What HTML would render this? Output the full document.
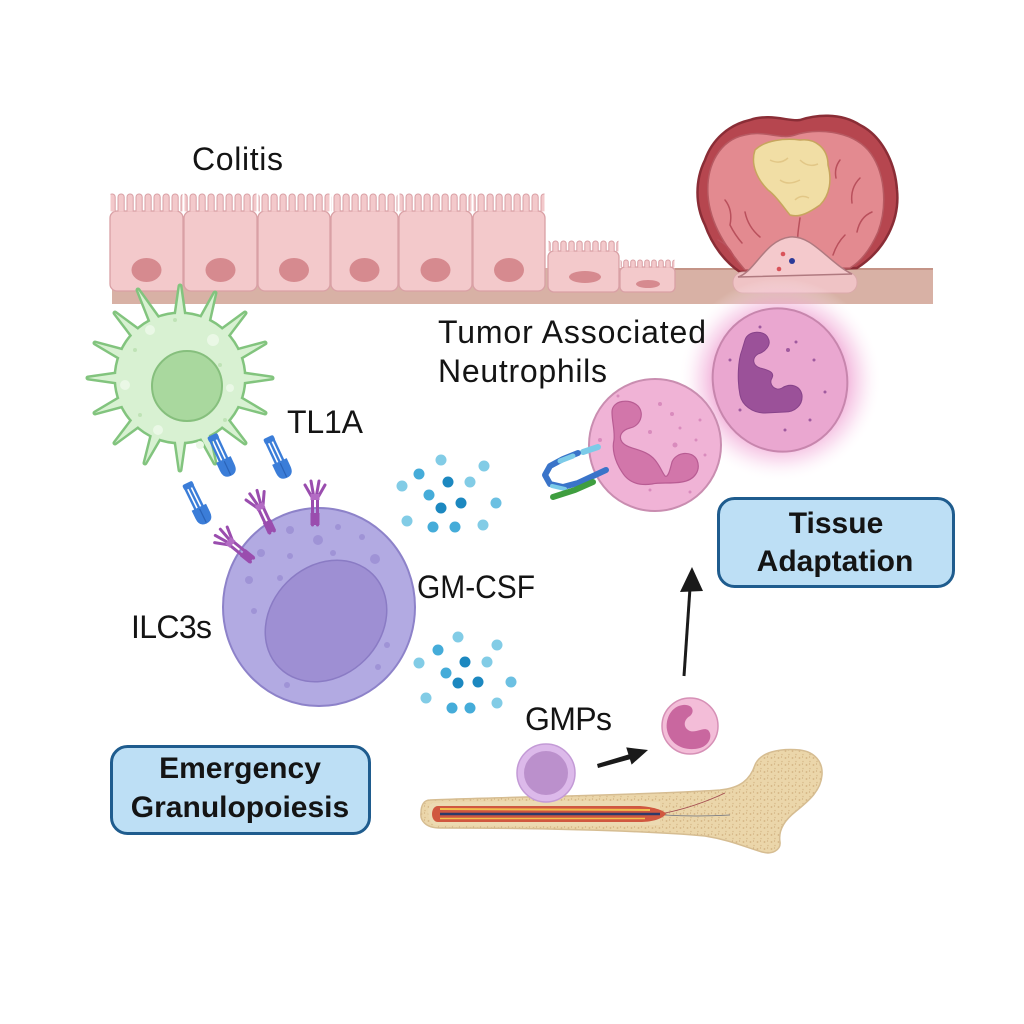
<!DOCTYPE html>
<html><head><meta charset="utf-8"><style>
html,body{margin:0;padding:0;background:#fff;}
svg{display:block;}
text{font-family:"Liberation Sans",Arial,sans-serif;fill:#141414;}
</style></head><body>
<svg width="1024" height="1024" viewBox="0 0 1024 1024" xmlns="http://www.w3.org/2000/svg">
<defs>
<pattern id="villi" patternUnits="userSpaceOnUse" x="0" y="193" width="9" height="19"><rect x="1" y="1" width="6.2" height="40" rx="3" fill="#f3c9cb" stroke="#d9a0a5" stroke-width="1"/></pattern>
<pattern id="villi2" patternUnits="userSpaceOnUse" x="0" y="240" width="8" height="12"><rect x="0.8" y="1" width="5.4" height="30" rx="2.6" fill="#f3c9cb" stroke="#d9a0a5" stroke-width="1"/></pattern>
<pattern id="villi3" patternUnits="userSpaceOnUse" x="0" y="259" width="7" height="9"><rect x="0.7" y="1" width="4.6" height="30" rx="2.2" fill="#f3c9cb" stroke="#d9a0a5" stroke-width="1"/></pattern>
<pattern id="stip" width="7" height="7" patternUnits="userSpaceOnUse"><rect width="7" height="7" fill="#ebd6aa"/><circle cx="1.5" cy="2" r="0.9" fill="#d3b382"/><circle cx="5" cy="5.5" r="0.8" fill="#d9bc8c"/><circle cx="4.5" cy="1" r="0.6" fill="#cdab7a"/></pattern>
<radialGradient id="glow" cx="0.5" cy="0.5" r="0.5"><stop offset="0.62" stop-color="#ee9ccf" stop-opacity="0.85"/><stop offset="0.8" stop-color="#f5c0e2" stop-opacity="0.45"/><stop offset="1" stop-color="#ffffff" stop-opacity="0"/></radialGradient>
<g id="dcshape">
<circle cx="180" cy="378" r="64"/>
<polygon points="230,372 272,378 230,384"/>
<polygon points="228,391 265,413 224,402"/>
<polygon points="220,410 245,443 211,418"/>
<polygon points="206,423 215,463 195,427"/>
<polygon points="186,428 180,470 174,428"/>
<polygon points="166,427 145,463 155,423"/>
<polygon points="149,418 115,443 140,410"/>
<polygon points="136,402 95,413 132,391"/>
<polygon points="130,384 88,378 130,372"/>
<polygon points="132,365 95,343 136,354"/>
<polygon points="140,346 115,313 149,338"/>
<polygon points="155,333 138,290 166,329"/>
<polygon points="174,328 180,286 186,328"/>
<polygon points="195,329 215,293 206,333"/>
<polygon points="211,338 245,313 220,346"/>
<polygon points="224,354 265,343 228,365"/>
</g>
<g id="lig">
<g stroke="#3b7dd8" stroke-width="2.4" stroke-linecap="round"><line x1="-4" y1="3" x2="-4" y2="30"/><line x1="0" y1="3" x2="0" y2="30"/><line x1="4" y1="3" x2="4" y2="30"/></g>
<rect x="-5.5" y="0" width="11" height="6" rx="2" fill="#3b7dd8"/>
<path d="M-8,27 L8,27 L8,36 Q8,45 0,45 Q-8,45 -8,36 Z" fill="#3b7dd8"/>
<line x1="0" y1="29" x2="0" y2="44" stroke="#2a63b8" stroke-width="1.2"/>
</g>
<g id="rec" stroke="#9a4dae" stroke-width="3" stroke-linecap="round" fill="none">
<line x1="-2.5" y1="0" x2="-2.5" y2="-26"/><line x1="2.5" y1="0" x2="2.5" y2="-26"/>
<path d="M-2,-26 L-10,-40 M-1,-27 L-4,-44 M1,-27 L4,-44 M2,-26 L10,-40"/>
<rect x="-4.5" y="-12" width="9" height="12" fill="#9a4dae" stroke="none"/>
<rect x="-4.5" y="-31" width="9" height="6" fill="#b36cc4" stroke="none"/>
</g>
</defs>

<!-- basement band -->
<rect x="112" y="268" width="821" height="36" fill="#d8b1a5"/>
<line x1="675" y1="269" x2="933" y2="269" stroke="#c49487" stroke-width="2"/>

<!-- epithelial cells -->
<g fill="#f3c9cb" stroke="#d9a0a5" stroke-width="1.3">
<rect x="110" y="211" width="73" height="80" rx="7"/>
<rect x="184" y="211" width="73" height="80" rx="7"/>
<rect x="258" y="211" width="72" height="80" rx="7"/>
<rect x="331" y="211" width="67" height="80" rx="7"/>
<rect x="399" y="211" width="73" height="80" rx="7"/>
<rect x="473" y="211" width="72" height="80" rx="7"/>
<rect x="548" y="251" width="71" height="41" rx="6"/>
<rect x="620" y="267" width="55" height="25" rx="5"/>
</g>
<g fill="url(#villi)">
<rect x="110.5" y="193" width="72" height="18.4"/>
<rect x="184.5" y="193" width="72" height="18.4"/>
<rect x="258.5" y="193" width="71" height="18.4"/>
<rect x="331.5" y="193" width="66" height="18.4"/>
<rect x="399.5" y="193" width="72" height="18.4"/>
<rect x="473.5" y="193" width="71" height="18.4"/>
</g>
<rect x="548.5" y="240" width="70" height="11.4" fill="url(#villi2)"/>
<rect x="620.5" y="259" width="54" height="8.4" fill="url(#villi3)"/>
<g fill="#d68a8f">
<ellipse cx="146.5" cy="270" rx="15" ry="12"/>
<ellipse cx="220.5" cy="270" rx="15" ry="12"/>
<ellipse cx="294" cy="270" rx="15" ry="12"/>
<ellipse cx="364.5" cy="270" rx="15" ry="12"/>
<ellipse cx="435.5" cy="270" rx="15" ry="12"/>
<ellipse cx="509" cy="270" rx="15" ry="12"/>
<ellipse cx="585" cy="277" rx="16" ry="6"/>
<ellipse cx="648" cy="284" rx="12" ry="4"/>
</g>

<!-- tumor -->
<path d="M740,272 C725,262 712,245 705,225 C695,205 695,180 705,160 C712,140 728,125 750,120 C770,113 790,122 800,120 C815,115 840,112 860,125 C880,135 895,160 897,190 C900,220 885,250 857,268 Z" fill="#b6464f" stroke="#8a2d36" stroke-width="2.5"/>
<path d="M745,270 C728,250 710,225 708,195 C706,165 720,140 745,135 C765,130 780,140 795,135 C815,128 850,130 868,150 C885,170 888,205 878,232 C870,250 860,262 850,268 Z" fill="#e38a90" stroke="#b75a62" stroke-width="1.5"/>
<g fill="none" stroke="#b9505c" stroke-width="1.5" stroke-linecap="round">
<path d="M725,200 q8,10 5,25 q5,10 12,18"/>
<path d="M718,240 q10,5 15,15"/>
<path d="M745,212 q3,15 15,25"/>
<path d="M860,178 q-10,10 -8,25"/>
<path d="M872,212 q-12,5 -15,20"/>
<path d="M845,235 q-8,8 -12,20"/>
<path d="M800,218 q-3,20 -2,20"/>
<path d="M840,160 q-6,8 -4,18"/>
</g>
<path d="M755,150 C765,140 785,138 800,140 C815,138 828,148 828,165 C832,180 830,195 820,205 C810,212 800,218 790,215 C782,205 775,195 768,190 C758,180 750,165 755,150 Z" fill="#f1dea5" stroke="#c7a55e" stroke-width="1.5"/>
<g fill="none" stroke="#e2c787" stroke-width="1.5"><path d="M770,160 q10,5 18,-2"/><path d="M780,180 q8,6 20,0"/><path d="M800,160 q8,8 18,4"/><path d="M795,200 q6,-6 14,-2"/></g>
<rect x="733" y="272" width="124" height="21" rx="10" fill="#efc3c5" stroke="#dba9ab" stroke-width="1"/>
<path d="M738,277 C755,272 765,240 790,237 C812,235 828,262 852,274 Z" fill="#f4c9cc" stroke="#b07a80" stroke-width="1.5"/>
<circle cx="783" cy="254" r="2.3" fill="#d9535a"/>
<circle cx="779" cy="269" r="2.3" fill="#d9535a"/>
<circle cx="792" cy="261" r="3" fill="#2b3a99"/>

<!-- dendritic cell -->
<use href="#dcshape" fill="#82c47e" stroke="#82c47e" stroke-width="5" stroke-linejoin="round"/>
<use href="#dcshape" fill="#d8f1d2"/>
<g fill="#eaf8e6"><circle cx="150" cy="330" r="5"/><circle cx="213" cy="340" r="6"/><circle cx="125" cy="385" r="5"/><circle cx="230" cy="388" r="4"/><circle cx="158" cy="430" r="5"/><circle cx="200" cy="445" r="4"/></g>
<g fill="#bfe3b6"><circle cx="135" cy="350" r="2"/><circle cx="220" cy="365" r="2"/><circle cx="140" cy="415" r="2"/><circle cx="225" cy="420" r="2"/><circle cx="175" cy="320" r="2"/></g>
<circle cx="187" cy="386" r="35" fill="#a9d89e" stroke="#86bf7d" stroke-width="2"/>

<!-- ligands -->
<use href="#lig" transform="translate(212,435) rotate(-25)"/>
<use href="#lig" transform="translate(268,437) rotate(-25)"/>
<use href="#lig" transform="translate(187,483) rotate(-26)"/>

<!-- ILC3 -->
<ellipse cx="319" cy="607" rx="96" ry="99" fill="#b2aae2" stroke="#8d82c9" stroke-width="2"/>
<ellipse cx="326" cy="621" rx="66" ry="55" transform="rotate(-45 326 621)" fill="#9e8fd3" stroke="#8a7bc4" stroke-width="1.5"/>
<g fill="#9f93d6">
<circle cx="290" cy="530" r="4"/><circle cx="318" cy="540" r="5"/><circle cx="338" cy="527" r="3"/><circle cx="362" cy="537" r="3"/><circle cx="375" cy="559" r="5"/><circle cx="333" cy="553" r="3"/><circle cx="290" cy="556" r="3"/><circle cx="261" cy="553" r="4"/><circle cx="280" cy="578" r="3"/><circle cx="249" cy="580" r="4"/><circle cx="254" cy="611" r="3"/><circle cx="387" cy="645" r="3"/><circle cx="378" cy="667" r="3"/><circle cx="287" cy="685" r="3"/>
</g>
<use href="#rec" transform="translate(252,560) rotate(-51)"/>
<use href="#rec" transform="translate(272,532) rotate(-25)"/>
<use href="#rec" transform="translate(315,525)"/>

<!-- GM-CSF dots -->
<g>
<circle cx="441" cy="460" r="5.5" fill="#82cce6"/><circle cx="484" cy="466" r="5.5" fill="#82cce6"/><circle cx="419" cy="474" r="5.5" fill="#45acd9"/><circle cx="448" cy="482" r="5.5" fill="#1c88c0"/><circle cx="470" cy="482" r="5.5" fill="#82cce6"/><circle cx="402" cy="486" r="5.5" fill="#82cce6"/><circle cx="429" cy="495" r="5.5" fill="#45acd9"/><circle cx="441" cy="508" r="5.5" fill="#1c88c0"/><circle cx="461" cy="503" r="5.5" fill="#1c88c0"/><circle cx="496" cy="503" r="5.5" fill="#6cc0e2"/><circle cx="407" cy="521" r="5.5" fill="#82cce6"/><circle cx="433" cy="527" r="5.5" fill="#45acd9"/><circle cx="455" cy="527" r="5.5" fill="#45acd9"/><circle cx="483" cy="525" r="5.5" fill="#82cce6"/>
<circle cx="458" cy="637" r="5.5" fill="#82cce6"/><circle cx="497" cy="645" r="5.5" fill="#82cce6"/><circle cx="438" cy="650" r="5.5" fill="#45acd9"/><circle cx="465" cy="662" r="5.5" fill="#1c88c0"/><circle cx="487" cy="662" r="5.5" fill="#82cce6"/><circle cx="419" cy="663" r="5.5" fill="#82cce6"/><circle cx="446" cy="673" r="5.5" fill="#45acd9"/><circle cx="458" cy="683" r="5.5" fill="#1c88c0"/><circle cx="478" cy="682" r="5.5" fill="#1c88c0"/><circle cx="511" cy="682" r="5.5" fill="#6cc0e2"/><circle cx="426" cy="698" r="5.5" fill="#82cce6"/><circle cx="452" cy="708" r="5.5" fill="#45acd9"/><circle cx="470" cy="708" r="5.5" fill="#45acd9"/><circle cx="497" cy="703" r="5.5" fill="#82cce6"/>
</g>

<!-- neutrophils -->
<circle cx="780" cy="380" r="102" fill="url(#glow)"/>
<ellipse cx="780" cy="380" rx="67" ry="72" transform="rotate(-15 780 380)" fill="#eaa7d0" stroke="#c786ad" stroke-width="2"/>
<path d="M745,340 C748,330 765,330 768,338 C772,345 765,352 758,354 C752,358 752,365 760,368 C768,370 775,372 772,378 C768,384 775,392 782,388 C790,383 800,385 802,395 C803,405 795,412 785,412 L765,413 C752,413 742,405 740,395 C737,380 738,360 742,350 Z" fill="#9b5199" stroke="#87438a" stroke-width="1"/>
<g fill="#a05a9f"><circle cx="760" cy="327" r="1.5"/><circle cx="788" cy="350" r="2"/><circle cx="796" cy="342" r="1.5"/><circle cx="814" cy="360" r="1.5"/><circle cx="740" cy="410" r="1.5"/><circle cx="810" cy="420" r="1.5"/><circle cx="730" cy="360" r="1.5"/><circle cx="825" cy="392" r="1.5"/><circle cx="785" cy="430" r="1.5"/></g>

<circle cx="655" cy="445" r="66" fill="#f0b3d6" stroke="#c98db0" stroke-width="2"/>
<path d="M612,412 C612,400 630,398 638,406 C645,414 640,426 630,428 C622,430 618,436 622,442 C628,450 645,448 655,460 C660,466 662,472 665,476 C668,478 670,470 672,462 C676,452 692,450 697,460 C701,470 695,480 682,482 C670,484 660,482 652,484 C638,486 628,482 622,472 C614,460 612,448 614,440 C615,430 612,422 612,412 Z" fill="#d276aa" stroke="#b85c93" stroke-width="1.2"/>
<g fill="#d98bbd"><circle cx="618" cy="396" r="1.5"/><circle cx="660" cy="404" r="2"/><circle cx="672" cy="414" r="2"/><circle cx="680" cy="428" r="1.5"/><circle cx="650" cy="432" r="2"/><circle cx="675" cy="445" r="2.5"/><circle cx="696" cy="440" r="1.5"/><circle cx="705" cy="455" r="1.5"/><circle cx="600" cy="440" r="2"/><circle cx="650" cy="490" r="1.5"/><circle cx="690" cy="492" r="1.5"/><circle cx="700" cy="420" r="1.5"/></g>

<!-- antibody -->
<g fill="none" stroke-linecap="round">
<path d="M598,447 L583,452" stroke="#7ccbe8" stroke-width="6"/>
<path d="M578,453 L563,459 L550,466 L545,475 L550,484 L563,487 L578,483 L606,470" stroke="#3a74c9" stroke-width="6" stroke-linejoin="round"/>
<path d="M573,456 L560,461" stroke="#7ccbe8" stroke-width="5"/>
<path d="M552,486 L565,489" stroke="#7ccbe8" stroke-width="4"/>
<path d="M553,497 L575,490 L593,482" stroke="#3f9e3f" stroke-width="6"/>
</g>

<!-- bone -->
<path d="M430,800 C500,797 650,795 720,790 C740,788 750,780 755,765 C760,752 780,748 800,750 C815,752 823,762 822,775 C821,790 810,800 795,812 C785,820 778,830 780,842 C781,850 772,855 762,852 C745,847 730,840 705,836 C640,830 520,828 440,828 C425,828 420,820 421,813 C421,805 424,800 430,800 Z" fill="url(#stip)" stroke="#d6bd92" stroke-width="1.5"/>
<path d="M432,803 C500,801 600,800 660,802 L660,825 C600,826 500,826 435,825 C427,822 426,806 432,803 Z" fill="#ecdab2"/>
<path d="M438,806 L640,806 C655,807 665,811 666,814 C661,820 650,822 640,822 L438,822 C430,822 430,806 438,806 Z" fill="#d0573f"/>
<line x1="440" y1="809" x2="650" y2="810" stroke="#f2c04e" stroke-width="2"/>
<line x1="440" y1="814" x2="660" y2="814" stroke="#2d3a6a" stroke-width="2.5"/>
<line x1="440" y1="818.5" x2="645" y2="818.5" stroke="#f2c04e" stroke-width="1.5"/>
<g fill="none" stroke-width="0.8"><path d="M665,813 q30,-6 60,-20" stroke="#a24a4f"/><path d="M665,815 q30,2 65,0" stroke="#6a7080"/></g>

<!-- GMP & small neutrophil -->
<circle cx="546" cy="773" r="29" fill="#dcb9ea" stroke="#c39ad6" stroke-width="1.5"/>
<circle cx="546" cy="773" r="22" fill="#bb90cc"/>
<circle cx="690" cy="726" r="28" fill="#f3bdd8" stroke="#d690b6" stroke-width="1.5"/>
<path d="M683,705 C672,706 665,718 667,730 C670,745 685,752 700,748 C710,745 713,735 708,730 C703,727 697,733 690,731 C683,728 683,720 690,716 C695,712 693,704 683,705 Z" fill="#c9679f"/>

<!-- arrows -->
<line x1="684" y1="676" x2="690" y2="588" stroke="#1a1a1a" stroke-width="3"/>
<polygon points="692,567 680,592 703,591" fill="#1a1a1a"/>
<polygon points="597,764 630,754 631,759 598,768" fill="#1a1a1a"/>
<polygon points="648,750 626.2,747.4 631.6,764.6" fill="#1a1a1a"/>

<!-- boxes -->
<rect x="111.5" y="746.5" width="258" height="87" rx="16" fill="#bddff5" stroke="#1f5c8e" stroke-width="3"/>
<rect x="718.5" y="498.5" width="235" height="88" rx="16" fill="#bddff5" stroke="#1f5c8e" stroke-width="3"/>
<g font-weight="bold" font-size="30" text-anchor="middle">
<text x="240" y="778">Emergency</text>
<text x="240" y="817">Granulopoiesis</text>
<text x="836" y="533">Tissue</text>
<text x="835" y="571">Adaptation</text>
</g>

<!-- labels -->
<g font-size="32">
<text x="192" y="170" textLength="91">Colitis</text>
<text x="438" y="343" textLength="268">Tumor Associated</text>
<text x="438" y="382" textLength="169">Neutrophils</text>
<text x="287" y="433" textLength="76">TL1A</text>
<text x="131" y="638" textLength="81">ILC3s</text>
<text x="417" y="598" textLength="118" lengthAdjust="spacingAndGlyphs">GM-CSF</text>
<text x="525" y="730" textLength="87">GMPs</text>
</g>
</svg>
</body></html>
